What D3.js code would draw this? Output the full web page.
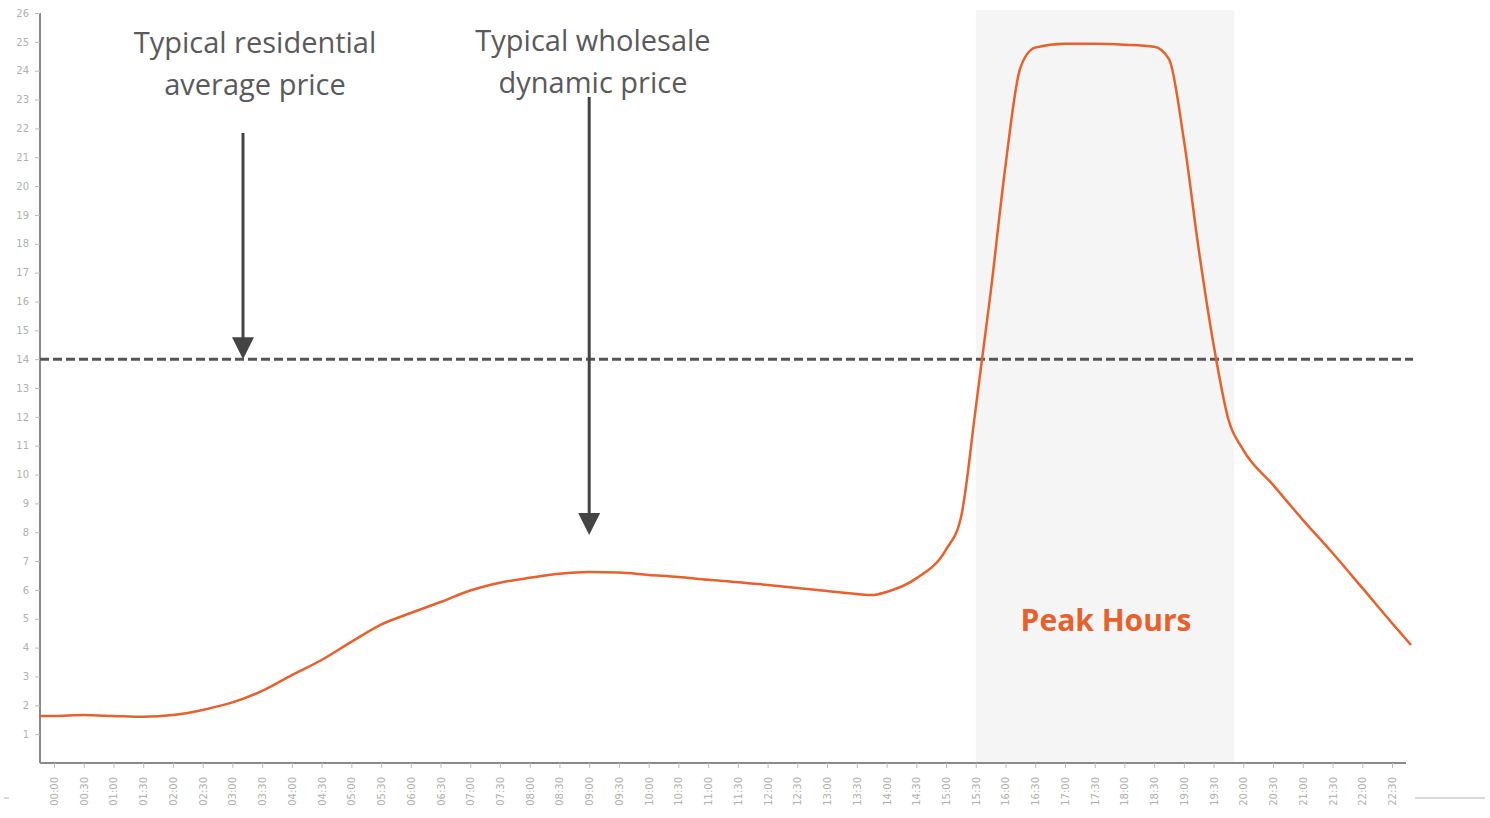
<!DOCTYPE html>
<html>
<head>
<meta charset="utf-8">
<script src="https://cdn.jsdelivr.net/npm/d3@7"></script>
<style>
  body { margin: 0; background: #fff; }
  svg { display: block; }
</style>
</head>
<body>
<script>
// valores (hora do dia, preço)
const hours = [-0.25, 0, 0.5, 1, 1.5, 2, 2.5, 3, 3.5, 4, 4.5, 5, 5.5, 6, 6.5, 7, 7.5, 8, 8.5, 9, 9.5, 10, 10.5, 11, 11.5, 12, 12.5, 13, 13.5, 13.75, 14, 14.5, 15, 15.25, 15.5, 15.75, 16, 16.25, 16.5, 17, 17.5, 18, 18.5, 18.75, 19, 19.25, 19.5, 19.75, 20, 20.5, 21, 21.5, 22, 22.5, 22.82];
const prices = [1.63, 1.63, 1.66, 1.63, 1.6, 1.66, 1.84, 2.1, 2.5, 3.05, 3.57, 4.2, 4.8, 5.2, 5.58, 5.98, 6.25, 6.42, 6.56, 6.62, 6.6, 6.52, 6.45, 6.35, 6.27, 6.17, 6.07, 5.96, 5.86, 5.82, 5.93, 6.4, 7.4, 8.5, 12.3, 16.3, 20.7, 24.1, 24.8, 24.93, 24.93, 24.9, 24.83, 24.4, 21.6, 17.8, 14.5, 11.9, 10.85, 9.64, 8.43, 7.28, 6.07, 4.85, 4.09];
const tickLabels = d3.range(0, 46).map(i => d3.format("02")(Math.floor(i / 2)) + ":" + (i % 2 ? "30" : "00"));
const yTicks = d3.range(1, 27);
const avgPrice = 14;
const peakBand = [15.5, 19.85];

const width = 1490, height = 818;
const svg = d3.select("body").append("svg")
  .attr("width", width)
  .attr("height", height);

const x = d3.scaleLinear().domain([0, 22.5]).range([54, 1392]);
const y = d3.scaleLinear().domain([0, 26]).range([763, 13]);
const x0 = 40, x1 = 1406;

// faixa de horário de pico
svg.append("rect")
  .attr("x", x(peakBand[0]))
  .attr("y", 10)
  .attr("width", x(peakBand[1]) - x(peakBand[0]))
  .attr("height", y(0) - 10)
  .attr("fill", "#f5f5f5");

// eixo Y
const yAxis = svg.append("g")
  .attr("transform", `translate(${x0},0)`)
  .call(d3.axisLeft(y).tickValues(yTicks).tickSize(5).tickPadding(6));
yAxis.select(".domain").attr("stroke", "#8a8a8a").attr("stroke-width", 2)
  .attr("d", `M0,${y(26)}V${y(0)}`);
yAxis.selectAll(".tick line").attr("stroke", "#bbb");
yAxis.selectAll(".tick text").attr("fill", "#b0b0b0").attr("font-size", 10)
  .attr("font-family", "DejaVu Sans");

// eixo X
const xAxis = svg.append("g")
  .attr("transform", `translate(0,${y(0)})`)
  .call(d3.axisBottom(x).tickValues(d3.range(0, 46).map(i => i / 2))
    .tickFormat((d, i) => tickLabels[i]).tickSize(5));
xAxis.select(".domain").attr("stroke", "#8a8a8a").attr("stroke-width", 2)
  .attr("d", `M${x0},0H${x1}`);
xAxis.selectAll(".tick line").attr("stroke", "#bbb");
xAxis.selectAll(".tick text")
  .attr("fill", "#b0b0b0")
  .attr("font-size", 10)
  .attr("font-family", "DejaVu Sans")
  .attr("text-anchor", "end")
  .attr("dy", "0.35em")
  .attr("transform", "translate(0,14) rotate(-90)")
  .attr("y", 0).attr("x", 0);

// linha de traços: preço médio residencial
svg.append("line")
  .attr("x1", x0).attr("x2", 1413)
  .attr("y1", y(avgPrice)).attr("y2", y(avgPrice))
  .attr("stroke", "#555")
  .attr("stroke-width", 3)
  .attr("stroke-dasharray", "9,4");

// curva de preço dinâmico
const pts = hours.map((h, i) => [h, prices[i]]);
svg.append("path")
  .datum(pts)
  .attr("fill", "none")
  .attr("stroke", "#e8602c")
  .attr("stroke-width", 2.5)
  .attr("d", d3.line().x(d => x(d[0])).y(d => y(d[1])).curve(d3.curveMonotoneX));

// setas
function arrow(cx, yTop, yTip) {
  svg.append("line")
    .attr("x1", cx).attr("x2", cx)
    .attr("y1", yTop).attr("y2", yTip - 18)
    .attr("stroke", "#444").attr("stroke-width", 3);
  svg.append("path")
    .attr("d", `M${cx - 11},${yTip - 22}L${cx + 11},${yTip - 22}L${cx},${yTip}Z`)
    .attr("fill", "#444");
}
arrow(243, 133, y(avgPrice));
arrow(x(9), 97, 535);

// textos
function label(cx, lines, y0) {
  const t = svg.append("text")
    .attr("text-anchor", "middle")
    .attr("font-family", "Open Sans")
    .attr("font-size", 29)
    .attr("fill", "#5a5a5a");
  lines.forEach((s, i) => {
    t.append("tspan").attr("x", cx).attr("y", y0 + i * 42).text(s);
  });
}
label(255, ["Typical residential", "average price"], 53);
label(593, ["Typical wholesale", "dynamic price"], 51);

svg.append("text")
  .attr("x", 1106).attr("y", 631)
  .attr("text-anchor", "middle")
  .attr("font-family", "Open Sans")
  .attr("font-weight", "bold")
  .attr("font-size", 30)
  .attr("fill", "#e8602c")
  .text("Peak Hours");

// traços soltos na borda inferior
svg.append("line").attr("x1", 1415).attr("x2", 1485).attr("y1", 798).attr("y2", 798)
  .attr("stroke", "#ccc").attr("stroke-width", 1.5);
svg.append("line").attr("x1", 4).attr("x2", 9).attr("y1", 798).attr("y2", 798)
  .attr("stroke", "#ccc").attr("stroke-width", 1.5);
</script>
</body>
</html>
